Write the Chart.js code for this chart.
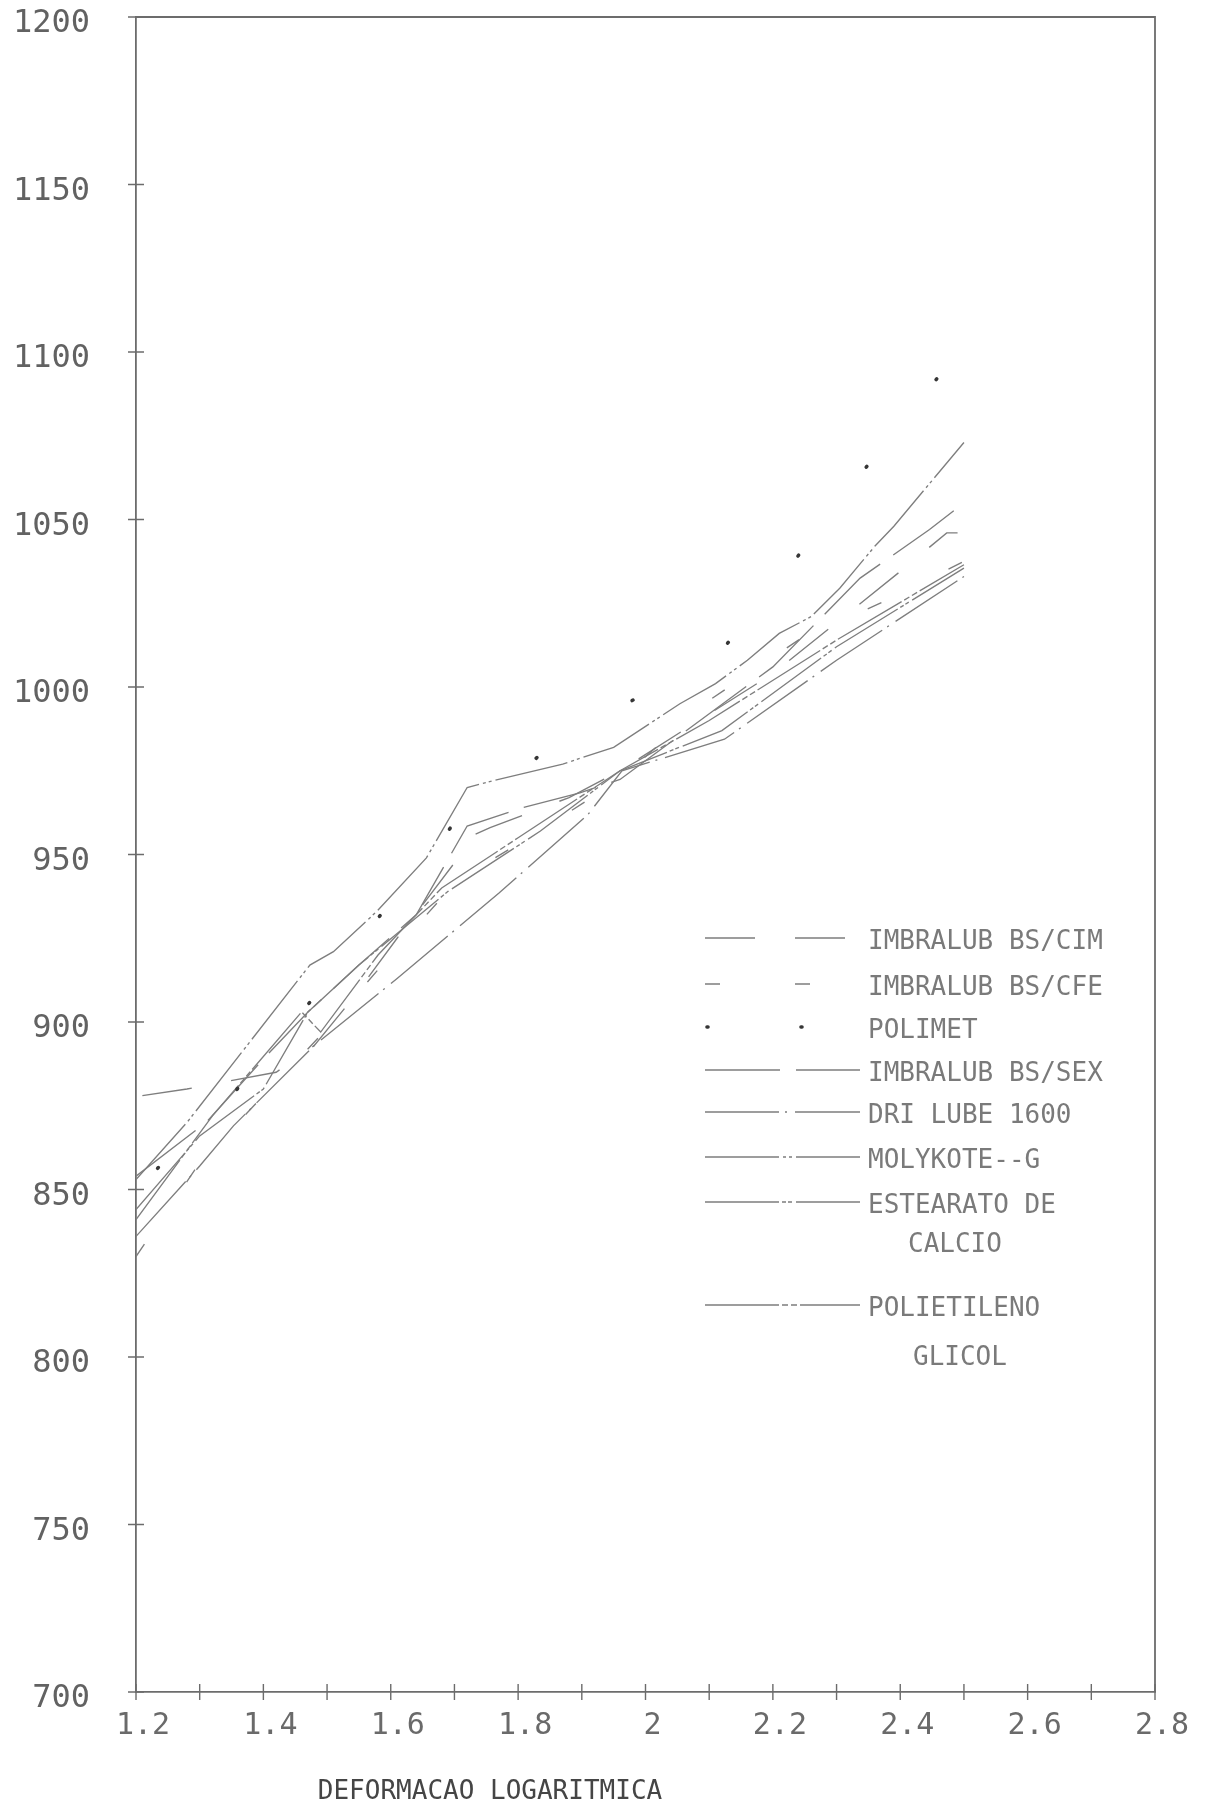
<!DOCTYPE html>
<html>
<head>
<meta charset="utf-8">
<script src="https://cdn.jsdelivr.net/npm/chart.js@4.4.1/dist/chart.umd.min.js"></script>
<style>
  html, body { margin: 0; padding: 0; background: #ffffff; }
  canvas { display: block; }
</style>
</head>
<body>
<canvas id="chart" width="1210" height="1804"></canvas>
<script>
// Flow stress versus logarithmic strain for eight lubricants.
const seriesNames = [
  'IMBRALUB BS/CIM',
  'IMBRALUB BS/CFE',
  'POLIMET',
  'IMBRALUB BS/SEX',
  'DRI LUBE 1600',
  'MOLYKOTE--G',
  'ESTEARATO DE|CALCIO',
  'POLIETILENO|GLICOL'
];

const cimStrain = [1.21, 1.28, 1.42, 1.48, 1.536, 1.61, 1.698, 1.72, 1.756, 1.88, 1.96, 2.1, 2.2, 2.4, 2.473, 2.49];
const cimStress = [878, 880, 885, 893, 906, 925, 947, 955, 958, 967, 975, 992, 1004, 1034.5, 1046, 1046];

const cfeStrain = [1.2, 1.3, 1.4, 1.5, 1.6, 1.703, 1.829, 1.957, 2.1, 2.24, 2.38, 2.5];
const cfeStress = [830, 858, 878, 898, 920, 942, 956.5, 972, 996, 1014, 1026, 1037.5];

const polimetStrain = [1.2, 1.35, 1.5, 1.696, 1.83, 1.97, 2.12, 2.235, 2.344, 2.47];
const polimetStress = [850, 878, 912, 958.5, 979, 995, 1011, 1038, 1065, 1095];

const sexStrain = [1.2, 1.31, 1.4, 1.47, 1.55, 1.64, 1.72, 1.807, 1.897, 1.96, 2.05, 2.2, 2.337, 2.446, 2.5];
const sexStress = [854, 870, 889, 903, 917, 932, 958.5, 964, 968.4, 972.4, 985, 1006, 1032.5, 1047, 1055];

const driStrain = [1.2, 1.3, 1.353, 1.48, 1.61, 1.77, 1.91, 1.963, 2.124, 2.3, 2.5];
const driStress = [836, 857, 869, 893, 913, 938.5, 962, 975, 984.4, 1008, 1033];

const molyStrain = [1.2, 1.28, 1.473, 1.51, 1.578, 1.656, 1.72, 1.76, 1.87, 1.95, 2.054, 2.11, 2.16, 2.21, 2.26, 2.305, 2.36, 2.39, 2.5];
const molyStress = [853, 870, 917, 921, 933, 949, 970, 972, 977, 982, 995, 1001, 1008, 1016, 1021, 1029.5, 1042, 1048, 1073];

const estStrain = [1.2, 1.3, 1.4, 1.47, 1.55, 1.69, 1.835, 1.96, 2.12, 2.3, 2.5];
const estStress = [844, 866, 880, 903, 917, 939, 957, 975, 987, 1012, 1035.5];

const pegStrain = [1.2, 1.32, 1.46, 1.49, 1.58, 1.68, 1.8, 1.96, 2.1, 2.3, 2.5];
const pegStress = [841, 872, 903, 897, 920, 940, 955, 975, 990, 1014, 1036.5];

const xTickValues = [1.2, 1.4, 1.6, 1.8, 2.0, 2.2, 2.4, 2.6, 2.8];
const xTickLabels = ['1.2', '1.4', '1.6', '1.8', '2', '2.2', '2.4', '2.6', '2.8'];
const yTickValues = [700, 750, 800, 850, 900, 950, 1000, 1050, 1100, 1150, 1200];
const xAxisTitle = 'DEFORMACAO LOGARITMICA';

// Pen-plotter line styles, one per lubricant.
const dashPatterns = [
  [50, 40],
  [15, 75],
  [1, 111],
  [75, 16],
  [74, 6, 2, 8],
  [74, 4, 3, 3, 3, 4],
  [74, 3, 4, 2, 4, 4],
  [74, 3, 6, 3, 6, 3]
];
const dashPhases = [0, 0, 81.7, 0, 0, 0, 0, 0];

const strainSets = [cimStrain, cfeStrain, polimetStrain, sexStrain, driStrain, molyStrain, estStrain, pegStrain];
const stressSets = [cimStress, cfeStress, polimetStress, sexStress, driStress, molyStress, estStress, pegStress];

const PEN = '#7e7e7e';
const DOT = '#363636';
const MONO = '"DejaVu Sans Mono", "Liberation Mono", monospace';

const datasets = seriesNames.map((name, i) => ({
  label: name.replace('|', ' '),
  data: strainSets[i].map((s, k) => ({ x: s, y: stressSets[i][k] })),
  borderColor: i === 2 ? DOT : PEN,
  borderWidth: i === 2 ? 3.6 : 1.35,
  borderDash: dashPatterns[i],
  borderDashOffset: dashPhases[i],
  borderCapStyle: i === 2 ? 'round' : 'butt',
  pointRadius: 0,
  tension: 0,
  fill: false
}));

// Frame, crossing tick marks, the inset key and the axis caption.
const plotterDecor = {
  id: 'plotterDecor',
  afterDatasetsDraw(chart) {
    const { ctx, chartArea: a, scales } = chart;
    const xs = scales.x, ys = scales.y;
    ctx.save();
    ctx.strokeStyle = '#6c6c6c';
    ctx.lineWidth = 1.8;
    ctx.setLineDash([]);
    ctx.beginPath();
    ctx.moveTo(a.left, a.top); ctx.lineTo(a.right, a.top); ctx.lineTo(a.right, a.bottom);
    ctx.stroke();

    ctx.lineWidth = 1.4;
    ctx.beginPath();
    for (let i = 0; i < xTickValues.length; i++) {
      const marks = [xTickValues[i]];
      if (i < xTickValues.length - 1) marks.push((xTickValues[i] + xTickValues[i + 1]) / 2);
      marks.forEach(v => {
        const px = xs.getPixelForValue(v);
        ctx.moveTo(px, a.bottom - 8); ctx.lineTo(px, a.bottom + 8);
      });
    }
    yTickValues.forEach(v => {
      const py = ys.getPixelForValue(v);
      ctx.moveTo(a.left - 8, py); ctx.lineTo(a.left + 8, py);
    });
    ctx.stroke();

    // key
    const rows = [938, 984, 1027, 1070, 1112, 1157, 1202, 1305];
    const lineEnds = [847, 811, 803, 860, 860, 860, 860, 860];
    ctx.font = '26px ' + MONO;
    ctx.textBaseline = 'middle';
    ctx.textAlign = 'left';
    seriesNames.forEach((name, i) => {
      const y = rows[i];
      ctx.save();
      ctx.strokeStyle = i === 2 ? DOT : PEN;
      ctx.lineWidth = i === 2 ? 3.6 : 1.6;
      ctx.lineCap = i === 2 ? 'round' : 'butt';
      ctx.setLineDash(i === 2 ? [1, 93] : dashPatterns[i]);
      ctx.beginPath();
      ctx.moveTo(i === 2 ? 707 : 705, y);
      ctx.lineTo(lineEnds[i], y);
      ctx.stroke();
      ctx.restore();
      ctx.fillStyle = '#7a7a7a';
      const parts = name.split('|');
      ctx.fillText(parts[0], 868, y + 4);
      if (parts[1]) {
        const indent = parts[1] === 'CALCIO' ? 908 : 913;
        const gap = parts[1] === 'CALCIO' ? 39 : 49;
        ctx.fillText(parts[1], indent, y + 4 + gap);
      }
    });

    // axis caption
    ctx.fillStyle = '#454545';
    ctx.font = '26px ' + MONO;
    ctx.textAlign = 'center';
    ctx.fillText(xAxisTitle, 490, 1792);
    ctx.restore();
  }
};

new Chart(document.getElementById('chart'), {
  type: 'line',
  data: { datasets },
  options: {
    responsive: false,
    animation: false,
    devicePixelRatio: 1,
    layout: { padding: { left: 0, right: 55, top: 17, bottom: 0 } },
    plugins: { legend: { display: false }, tooltip: { enabled: false } },
    scales: {
      x: {
        type: 'linear',
        min: 1.2,
        max: 2.8,
        afterBuildTicks(scale) { scale.ticks = xTickValues.map(v => ({ value: v })); },
        afterFit(scale) { scale.height = 112; },
        grid: { display: false, drawTicks: false },
        border: { display: true, color: '#6c6c6c', width: 1.8 },
        ticks: {
          autoSkip: false,
          maxRotation: 0,
          padding: 16,
          labelOffset: 7,
          color: '#6a6a6a',
          font: { family: MONO, size: 30 },
          callback(value) {
            const i = xTickValues.findIndex(v => Math.abs(v - value) < 1e-6);
            return i >= 0 ? xTickLabels[i] : '';
          }
        }
      },
      y: {
        min: 700,
        max: 1200,
        afterBuildTicks(scale) { scale.ticks = yTickValues.map(v => ({ value: v })); },
        afterFit(scale) {
          scale.width = 136;
          scale.paddingTop = 0;
          scale.paddingBottom = 0;
        },
        grid: { display: false, drawTicks: false },
        border: { display: true, color: '#6c6c6c', width: 1.8 },
        ticks: {
          padding: 46,
          labelOffset: 7,
          color: '#626262',
          font: { family: MONO, size: 32 },
          callback(value) { return String(value); }
        }
      }
    }
  },
  plugins: [plotterDecor]
});
</script>
</body>
</html>
